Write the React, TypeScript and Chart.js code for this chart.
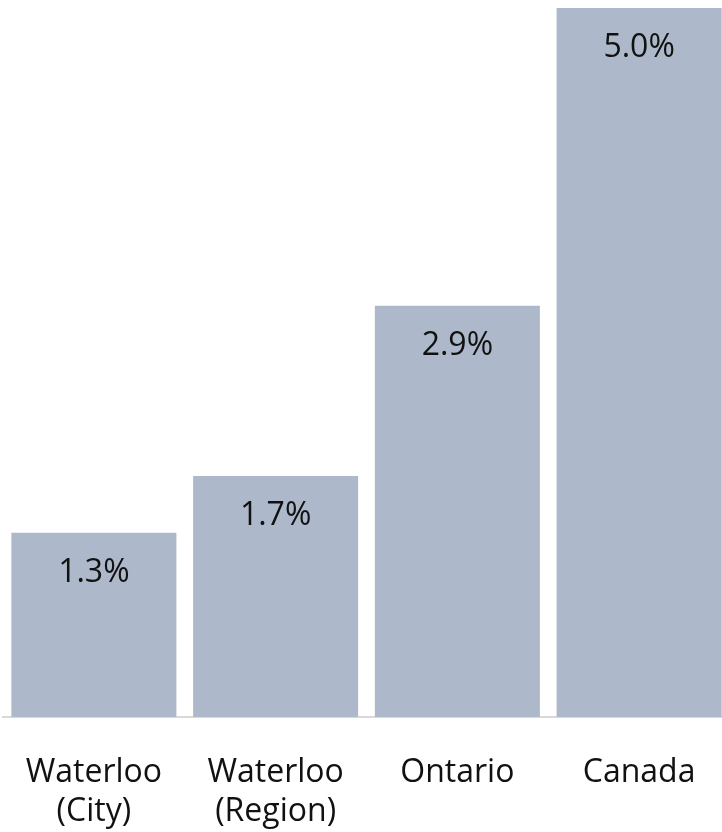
import React, { useEffect, useRef } from "react";
import { Chart, registerables } from "chart.js";

Chart.register(...registerables);

const categories: string[][] = [["Waterloo", "(City)"], ["Waterloo", "(Region)"], ["Ontario"], ["Canada"]];
const values: number[] = [1.3, 1.7, 2.9, 5.0];
const valueLabels: string[] = ["1.3%", "1.7%", "2.9%", "5.0%"];

const FONT = "'Open Sans', sans-serif";

const labelPlugin = {
  id: "barLabels",
  afterDatasetsDraw(chart: any) {
    const ctx = chart.ctx;
    const meta = chart.getDatasetMeta(0);
    ctx.save();
    ctx.font = `32px ${FONT}`;
    ctx.fillStyle = "#111111";
    ctx.textAlign = "center";
    ctx.textBaseline = "middle";
    meta.data.forEach((bar: any, i: number) => {
      ctx.fillText(valueLabels[i], bar.x, bar.y + 40);
    });
    ctx.restore();
  },
};

export default function App() {
  const ref = useRef<HTMLCanvasElement | null>(null);
  useEffect(() => {
    if (!ref.current) return;
    const chart = new Chart(ref.current, {
      type: "bar",
      data: {
        labels: categories,
        datasets: [
          {
            data: values,
            backgroundColor: "#adb9ca",
            categoryPercentage: 1,
            barPercentage: 0.908,
          },
        ],
      },
      options: {
        animation: false,
        responsive: false,
        maintainAspectRatio: false,
        layout: { padding: { top: 8, left: 3, right: 0, bottom: 0 } },
        plugins: { legend: { display: false }, tooltip: { enabled: false } },
        scales: {
          y: { display: false, min: 0, max: 5 },
          x: {
            grid: { display: false, drawTicks: false },
            border: { display: true, color: "#d9d9d9", width: 2 },
            ticks: {
              color: "#111111",
              font: { family: FONT, size: 32, lineHeight: 1.2 },
              padding: 37,
              maxRotation: 0,
              autoSkip: false,
            },
            afterFit(scale: any) {
              scale.paddingLeft = 0;
              scale.paddingRight = 0;
              scale.height = 115;
            },
          },
        },
      },
      plugins: [labelPlugin],
    });
    return () => chart.destroy();
  }, []);
  return (
    <div style={{ position: "fixed", left: 0, top: 0, width: 722, height: 832, overflow: "hidden", background: "#fff" }}>
      <canvas ref={ref} width={730} height={832} style={{ display: "block", width: 730, height: 832 }} />
    </div>
  );
}
